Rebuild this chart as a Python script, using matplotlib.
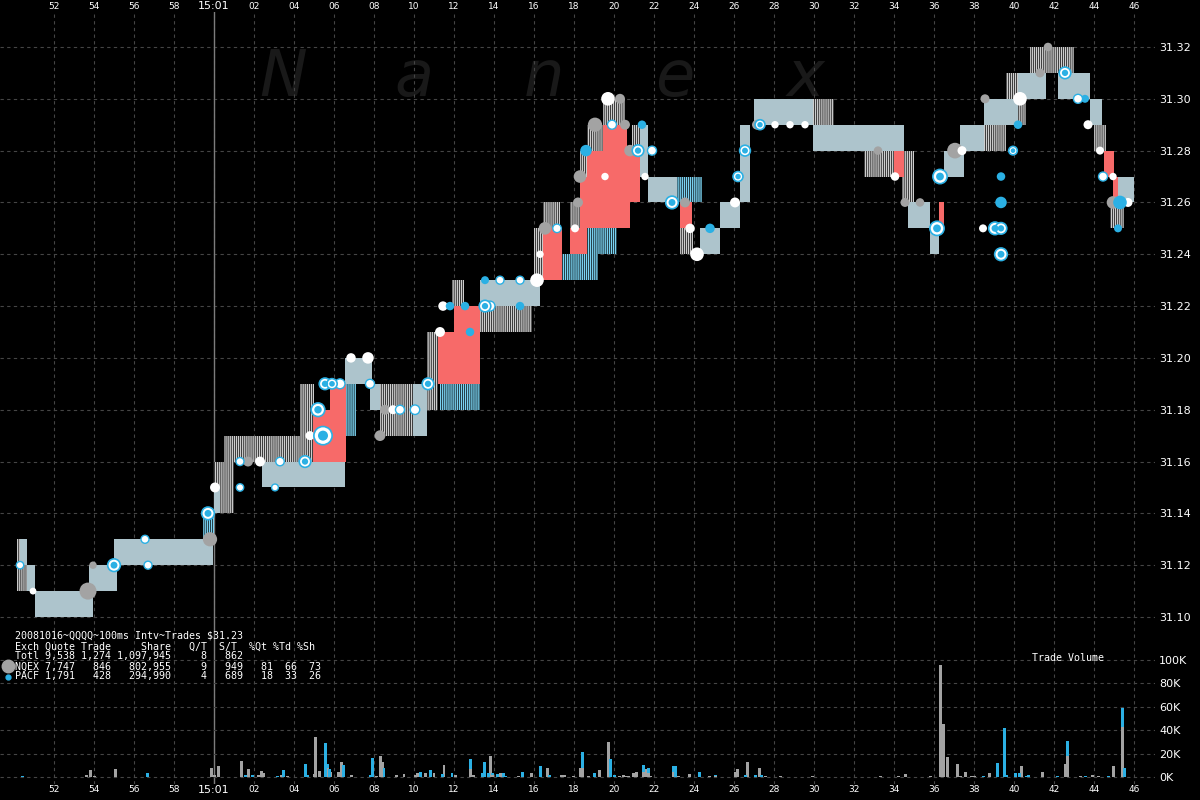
import matplotlib
matplotlib.use('Agg')
import matplotlib.pyplot as plt
import numpy as np

# ---- data (time = seconds after 15:00:00) ----
# solid NBBO band blocks: start, end, low, high
band_blocks = [
    (50.30, 50.65, 31.12, 31.13), (50.65, 51.05, 31.11, 31.12),
    (51.05, 53.95, 31.10, 31.11), (53.75, 55.15, 31.11, 31.12),
    (55.00, 59.95, 31.12, 31.13), (60.00, 60.30, 31.14, 31.15),
    (62.40, 66.55, 31.15, 31.16), (66.55, 67.90, 31.19, 31.20),
    (67.80, 68.30, 31.18, 31.19), (69.95, 70.65, 31.17, 31.19),
    (73.30, 76.30, 31.22, 31.23), (81.30, 81.70, 31.27, 31.29),
    (81.70, 83.15, 31.26, 31.27), (84.30, 85.30, 31.24, 31.25),
    (85.30, 86.30, 31.25, 31.26), (86.30, 86.80, 31.26, 31.29),
    (87.00, 89.95, 31.29, 31.30), (89.95, 94.50, 31.28, 31.29),
    (94.70, 95.80, 31.25, 31.26), (95.80, 96.25, 31.24, 31.25),
    (96.50, 97.50, 31.27, 31.28), (97.30, 98.50, 31.28, 31.29),
    (98.50, 100.20, 31.29, 31.30), (100.20, 101.60, 31.30, 31.31),
    (102.20, 103.80, 31.30, 31.31), (103.80, 104.40, 31.29, 31.30),
    (105.20, 106.00, 31.26, 31.27),
]
# single exchange quotes (grey stripes)
grey_blocks = [
    (50.15, 50.45, 31.11, 31.13), (50.30, 51.05, 31.11, 31.12),
    (60.00, 61.00, 31.14, 31.16), (60.50, 64.30, 31.16, 31.17),
    (64.30, 65.00, 31.16, 31.19), (68.30, 70.65, 31.17, 31.19),
    (70.65, 71.20, 31.18, 31.21), (71.90, 72.50, 31.22, 31.23),
    (73.30, 75.90, 31.21, 31.22), (76.00, 76.55, 31.23, 31.25),
    (76.45, 77.30, 31.25, 31.26), (77.80, 78.30, 31.25, 31.26),
    (78.30, 78.65, 31.27, 31.28), (78.65, 79.45, 31.28, 31.29),
    (79.45, 80.55, 31.29, 31.30), (80.90, 81.30, 31.28, 31.29),
    (83.30, 83.95, 31.24, 31.25), (89.95, 91.00, 31.28, 31.30),
    (92.50, 94.50, 31.27, 31.28), (94.40, 95.00, 31.26, 31.28),
    (98.00, 99.60, 31.28, 31.29), (99.60, 100.60, 31.29, 31.31),
    (100.80, 103.00, 31.31, 31.32), (104.00, 104.60, 31.28, 31.29),
    (104.80, 105.50, 31.25, 31.26),
]
# single exchange quotes (blue stripes)
blue_blocks = [
    (59.45, 60.00, 31.13, 31.14), (66.55, 67.10, 31.17, 31.19),
    (71.30, 73.30, 31.18, 31.19), (77.30, 79.20, 31.23, 31.24),
    (78.65, 80.15, 31.24, 31.25), (83.15, 84.40, 31.26, 31.27),
]
# crossed market blocks
cross_blocks = [
    (64.95, 66.60, 31.16, 31.18), (65.80, 66.60, 31.18, 31.19),
    (71.20, 72.00, 31.19, 31.21), (72.00, 73.30, 31.19, 31.22),
    (76.45, 77.40, 31.23, 31.25), (77.80, 78.65, 31.24, 31.25),
    (78.30, 79.70, 31.25, 31.27), (78.65, 79.45, 31.27, 31.28),
    (79.45, 80.65, 31.26, 31.29), (79.70, 80.80, 31.25, 31.26),
    (80.65, 81.30, 31.26, 31.28), (83.30, 83.90, 31.25, 31.26),
    (94.00, 94.50, 31.27, 31.28), (96.25, 96.50, 31.25, 31.26),
    (104.50, 105.00, 31.27, 31.28), (104.95, 105.20, 31.26, 31.27),
]

# trades: time, price, marker type, shares
trade_t = [50.3, 50.95, 53.7, 53.95, 55.0, 56.55, 56.7, 59.8, 59.7, 60.05,
           61.3, 61.3, 61.7, 62.3, 63.05, 63.3, 64.55, 64.8, 65.45, 65.2,
           65.55, 65.9, 66.3, 66.85, 67.7, 67.8, 68.3, 68.55, 68.95, 69.3,
           70.05, 70.7, 71.3, 71.45, 71.8, 72.55, 72.8, 73.55, 73.55, 73.8,
           74.3, 75.3, 75.3, 76.15, 76.3, 76.55, 77.15, 78.05, 78.2, 78.3,
           78.6, 79.05, 79.7, 80.3, 79.9, 80.55, 81.4, 80.8, 81.2, 81.9,
           81.55, 79.55, 82.9, 83.55, 84.15, 83.8, 84.8, 86.05, 86.2, 86.55,
           87.15, 87.3, 88.05, 88.8, 89.55, 93.2, 94.05, 94.55, 95.3, 96.15,
           96.3, 97.05, 97.4, 98.55, 99.35, 99.35, 98.45, 99.05, 99.35, 99.35,
           99.95, 100.2, 100.3, 101.3, 101.7, 102.55, 103.2, 103.55, 103.7, 104.3,
           104.45, 104.95, 105.3, 105.7, 105.2, 104.95]
trade_p = [31.12, 31.11, 31.11, 31.12, 31.12, 31.13, 31.12, 31.13, 31.14, 31.15,
           31.15, 31.16, 31.16, 31.16, 31.15, 31.16, 31.16, 31.17, 31.17, 31.18,
           31.19, 31.19, 31.19, 31.20, 31.20, 31.19, 31.17, 31.18, 31.18, 31.18,
           31.18, 31.19, 31.21, 31.22, 31.22, 31.22, 31.21, 31.23, 31.22, 31.22,
           31.23, 31.22, 31.23, 31.23, 31.24, 31.25, 31.25, 31.25, 31.26, 31.27,
           31.28, 31.29, 31.30, 31.30, 31.29, 31.29, 31.29, 31.28, 31.28, 31.28,
           31.27, 31.27, 31.26, 31.26, 31.24, 31.25, 31.25, 31.26, 31.27, 31.28,
           31.29, 31.29, 31.29, 31.29, 31.29, 31.28, 31.27, 31.26, 31.26, 31.25,
           31.27, 31.28, 31.28, 31.30, 31.27, 31.26, 31.25, 31.25, 31.25, 31.24,
           31.28, 31.29, 31.30, 31.31, 31.32, 31.31, 31.30, 31.30, 31.29, 31.28,
           31.27, 31.26, 31.26, 31.26, 31.25, 31.27]
trade_kind = ['wb', 'w', 'g', 'g', 'bb', 'wb', 'wb', 'g', 'bb', 'w',
              'wb', 'wb', 'g', 'w', 'wb', 'wb', 'bb', 'w', 'bb', 'bb',
              'bb', 'bb', 'wb', 'w', 'w', 'wb', 'g', 'g', 'w', 'wb',
              'wb', 'bb', 'w', 'w', 'b', 'b', 'b', 'b', 'bb', 'wb',
              'wb', 'b', 'wb', 'w', 'w', 'g', 'wb', 'w', 'g', 'g',
              'b', 'g', 'w', 'g', 'wb', 'g', 'b', 'g', 'bb', 'wb',
              'w', 'w', 'bb', 'g', 'w', 'w', 'b', 'w', 'bb', 'bb',
              'g', 'bb', 'w', 'w', 'w', 'g', 'w', 'g', 'g', 'bb',
              'bb', 'g', 'w', 'g', 'b', 'b', 'w', 'bb', 'bb', 'bb',
              'bb', 'b', 'w', 'g', 'g', 'bb', 'wb', 'b', 'w', 'w',
              'wb', 'g', 'b', 'w', 'b', 'w']
trade_shares = [300, 200, 3000, 300, 1500, 400, 400, 2000, 1500, 800,
                300, 400, 800, 800, 200, 500, 1200, 600, 3500, 1800,
                1200, 900, 800, 700, 1200, 600, 1000, 800, 600, 600,
                700, 1200, 800, 700, 500, 500, 500, 400, 1200, 800,
                400, 500, 400, 1800, 300, 1500, 500, 400, 800, 1500,
                1200, 2000, 1800, 800, 600, 800, 500, 1200, 1200, 600,
                300, 300, 1500, 800, 1800, 700, 700, 800, 800, 1000,
                800, 800, 300, 300, 300, 500, 500, 600, 500, 2000,
                2000, 2500, 600, 600, 500, 1200, 400, 1500, 1200, 1500,
                500, 500, 1800, 600, 500, 1200, 600, 400, 600, 400,
                600, 1500, 1800, 600, 400, 300]

# trade volume per 100ms interval (thousands of shares)
vol_t = [50.4, 50.9, 53.6, 53.8, 54.0, 55.05, 56.65, 59.85, 60.0, 60.2,
         61.35, 61.55, 61.7, 61.9, 62.2, 62.35, 62.47, 63.18, 63.37, 63.47,
         63.66, 64.57, 64.66, 65.0, 65.08, 65.28, 65.58, 65.66, 65.78, 65.85,
         66.2, 66.39, 66.49, 66.87, 67.83, 67.93, 68.12, 68.31, 68.41, 68.5,
         69.12, 69.5, 70.08, 70.19, 70.33, 70.58, 70.8, 71.0, 71.42, 71.5,
         71.9, 72.07, 72.82, 72.96, 73.42, 73.53, 73.72, 73.82, 73.94, 74.17,
         74.3, 74.45, 74.6, 75.22, 75.41, 75.86, 76.32, 76.66, 76.76, 77.37,
         77.53, 77.95, 78.33, 78.43, 78.72, 79.02, 79.25, 79.72, 79.85, 80.03,
         80.26, 80.45, 80.55, 80.74, 80.95, 81.13, 81.45, 81.57, 81.74, 81.85,
         82.95, 83.07, 83.24, 83.75, 84.25, 84.77, 85.06, 86.06, 86.18, 86.6,
         86.69, 87.08, 87.27, 87.37, 87.56, 88.33, 89.1, 89.9, 93.32, 94.24,
         94.57, 95.05, 95.39, 95.58, 95.85, 96.3, 96.45, 96.68, 97.15, 97.35,
         97.58, 97.87, 98.02, 98.47, 98.79, 99.18, 99.5, 99.62, 100.08, 100.27,
         100.39, 100.62, 100.71, 101.42, 102.19, 102.59, 102.69, 103.3, 103.59, 103.92,
         104.22, 104.74, 104.99, 105.42, 105.53, 105.9]
vol_nqex = [0, 0.3, 1.3, 6, 0.5, 6.5, 0, 7.5, 2, 9,
            14, 0, 6.5, 0, 1.5, 5, 3.5, 0, 1.5, 0,
            1, 0, 0, 2.7, 34, 5, 0, 8, 0, 4.5,
            4.5, 13, 0, 2, 0, 0, 1, 18, 13, 0,
            2, 2.5, 2, 3, 0, 3.5, 0, 3.5, 0, 10,
            0, 1.3, 7, 2, 0, 0, 0, 18, 2, 0,
            3, 0, 0, 1, 0, 3, 0, 7.5, 0, 2,
            1.5, 1, 8, 8, 1, 0, 6, 30, 0, 0,
            1, 1.5, 1, 1, 3, 4.5, 4, 7, 3, 1,
            4, 0, 1, 2.5, 0, 0.5, 0.5, 4.5, 7, 0,
            13, 0, 7.5, 0, 0.5, 0.5, 0.3, 0.8, 1, 0.5,
            2.7, 0.3, 0.3, 0.3, 0.5, 96, 45, 17, 11, 1,
            4.5, 1, 1, 0, 3.5, 0, 0, 0, 0, 0,
            9.5, 0, 0, 4.5, 0, 11, 18, 0.5, 0, 1.5,
            0.5, 0, 9.5, 43, 0, 0.3]
vol_pacf = [0.5, 0, 0, 0, 0, 0, 3.5, 0, 0, 0,
            0, 1.5, 0, 2, 0, 0, 0, 0.5, 0, 6,
            0, 11, 2, 0, 0, 0, 29, 3, 6.5, 0,
            0, 0, 10, 0, 2, 16, 0, 0, 0, 8,
            0, 0, 0, 0, 4, 0, 6, 0, 2.5, 0,
            3.5, 0, 8, 0, 3.5, 13, 3, 0, 1, 2.5,
            0, 3, 1, 0, 4.5, 0, 9, 0, 2, 0,
            0, 0, 0, 13, 0, 3.5, 0, 0, 15, 2,
            0, 0, 0, 0, 0, 0, 6, 0, 4.5, 0,
            5, 9, 0, 0, 4.5, 0, 1, 0, 0, 1.5,
            0, 2, 0, 1.5, 0, 0, 0, 0, 0, 0,
            0, 0, 0, 0, 0, 0, 0, 0, 0, 0,
            0, 0, 0, 0.5, 0, 12, 42, 1.5, 3, 3,
            0, 1, 1.5, 0, 0.5, 0, 13, 0, 1, 0,
            0, 1.2, 0, 16, 8, 0]

title_line = '20081016~QQQQ~100ms Intv~Trades $31.23'
stat_cols = 'Exch Quote Trade     Share   Q/T  S/T  %Qt %Td %Sh'
exch_names = ['Totl', 'NQEX', 'PACF']
exch_quotes = [9538, 7747, 1791]
exch_trades = [1274, 846, 428]
exch_shares = [1097945, 802955, 294990]
exch_qt = [8, 9, 4]
exch_st = [862, 949, 689]
exch_pct = [None, (81, 66, 73), (18, 33, 26)]

price_ticks = [31.10 + 0.02 * i for i in range(12)]
time_ticks = list(range(52, 107, 2))
vol_ticks = [0, 20000, 40000, 60000, 80000, 100000]

# ---- colours ----
BG = '#000000'
GRID = '#454545'
GREY = '#A3A3A3'
BLUE = '#2BB0E4'
BAND_FACE = '#ADC4CC'
RED = '#F76A69'

plt.rcParams['hatch.linewidth'] = 1.0

fig = plt.figure(figsize=(12, 8), dpi=100, facecolor=BG)
ax = fig.add_axes([0, 0.02, 0.9625, 0.965])
ax.set_facecolor(BG)

ax.set_xlim(49.3, 107.05)
ax.set_ylim(31.03555, 31.3335)

# watermark
for i, ch in enumerate('Nanex'):
    ax.text(0.245 + 0.113 * i, 0.915, ch, transform=ax.transAxes, fontsize=46,
            style='italic', color='#191919', ha='center', va='center', zorder=0.1)

# grid
ax.set_axisbelow(True)
ax.set_xticks(time_ticks)
ax.set_yticks(price_ticks)
ax.grid(True, color=GRID, linestyle=(0, (3, 3)), linewidth=0.8)
ax.axvline(60, color='#7c7c7c', linewidth=1.0, zorder=0.6)

def draw_blocks(blocks, **kw):
    for t0, t1, lo, hi in blocks:
        ax.bar(t0, hi - lo, width=t1 - t0, bottom=lo, align='edge', linewidth=0, **kw)

draw_blocks(grey_blocks, color=BG, edgecolor='#CDCDCD', hatch='|' * 8, zorder=2)
draw_blocks(blue_blocks, color=BG, edgecolor='#7AD3F2', hatch='|' * 8, zorder=2)
draw_blocks(band_blocks, color=BAND_FACE, zorder=3)
draw_blocks(cross_blocks, color=RED, zorder=4)

# trades
tt = np.array(trade_t)
tp = np.array(trade_p)
sz = 15 + np.array(trade_shares) * 0.045
kinds = np.array(trade_kind)
m = kinds == 'g'
ax.scatter(tt[m], tp[m], s=sz[m], color=GREY, linewidths=0, zorder=5)
m = kinds == 'w'
ax.scatter(tt[m], tp[m], s=sz[m], color='white', linewidths=0, zorder=6)
m = kinds == 'b'
ax.scatter(tt[m], tp[m], s=sz[m], color=BLUE, linewidths=0, zorder=6)
m = kinds == 'wb'
ax.scatter(tt[m], tp[m], s=sz[m], facecolor='white', edgecolor=BLUE, linewidths=1.0, zorder=6)
m = kinds == 'bb'
ax.scatter(tt[m], tp[m], s=sz[m], facecolor='white', edgecolor=BLUE, linewidths=1.2, zorder=6)
ax.scatter(tt[m], tp[m], s=sz[m] * 0.3, color=BLUE, linewidths=0, zorder=7)

# volume panel
vax = ax.twinx()
vax.set_ylim(-5983, 653846)
vt = np.array(vol_t)
vn = np.array(vol_nqex) * 1000
vp = np.array(vol_pacf) * 1000
vax.bar(vt, vn, width=0.15, color=GREY, linewidth=0, zorder=3)
vax.bar(vt, vp, width=0.15, bottom=vn, color=BLUE, linewidth=0, zorder=3)
vax.set_yticks(vol_ticks)
vax.set_yticklabels(['%dK' % (v // 1000) for v in vol_ticks])
vax.grid(True, axis='y', color=GRID, linestyle=(0, (3, 3)), linewidth=0.8)
vax.tick_params(axis='y', length=0, colors='white', labelsize=8, pad=3)
for s in vax.spines.values():
    s.set_visible(False)

# axes formatting (after twinx, which moves price ticks to the left)
def tlabel(v):
    v = int(round(v))
    return '15:01' if v == 60 else '%02d' % (v % 60)

ax.set_xticklabels([tlabel(v) for v in time_ticks])
ax.set_yticklabels(['%.2f' % v for v in price_ticks])
ax.yaxis.tick_right()
ax.tick_params(axis='x', length=0, labeltop=True, labelbottom=True, colors='white',
               labelsize=6.5, pad=0.5)
ax.tick_params(axis='y', length=0, colors='white', labelsize=8, pad=3,
               labelright=True, labelleft=False)
for tick in ax.xaxis.get_major_ticks():
    if tick.label1.get_text() == '15:01':
        tick.label1.set_fontsize(8)
        tick.label2.set_fontsize(8)
for s in ax.spines.values():
    s.set_visible(False)

# stats text block
mono = 'DejaVu Sans Mono'
lines = [title_line, stat_cols]
for i, name in enumerate(exch_names):
    row = '%s %5s %5s %9s %5d %5d' % (name, format(exch_quotes[i], ','), format(exch_trades[i], ','),
                                    format(exch_shares[i], ','), exch_qt[i], exch_st[i])
    if exch_pct[i] is not None:
        row += '  %3d %3d %3d' % exch_pct[i]
    lines.append(row)
ys = [636, 647, 656.5, 666.5, 676.5]
for txt, y in zip(lines, ys):
    fig.text(15 / 1200, 1 - y / 800, txt, family=mono, fontsize=7.2, color='white', va='center')
fig.text(1032 / 1200, 1 - 658 / 800, 'Trade Volume', family=mono, fontsize=7.2, color='white', va='center')
fig.lines.append(plt.Line2D([8 / 1200], [1 - 666 / 800], marker='o', markersize=9, color=GREY,
                            linestyle='none', transform=fig.transFigure))
fig.lines.append(plt.Line2D([8 / 1200], [1 - 676.5 / 800], marker='o', markersize=3.5, color=BLUE,
                            linestyle='none', transform=fig.transFigure))

fig.savefig('out.png', dpi=100, facecolor=BG)
